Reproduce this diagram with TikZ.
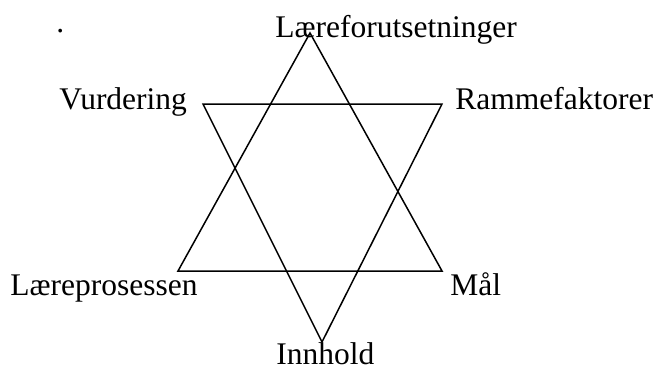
\documentclass[tikz,border=0pt]{standalone}
\usepackage{fontspec}
\setmainfont{Liberation Serif}
\usetikzlibrary{positioning}

\begin{document}
\begin{tikzpicture}[x=0.5pt, y=-0.5pt,
  lbl/.style={font=\fontsize{15.75}{18}\selectfont, inner sep=0pt, anchor=base west},
  edge/.style={line width=0.75pt, line join=miter}]
\useasboundingbox (0,0) rectangle (657,369);
% upward triangle
\coordinate (apex) at (310,33);
\coordinate (lowleft) at (178,271);
\coordinate (lowright) at (442,271);
% downward triangle
\coordinate (upleft) at (203,104);
\coordinate (upright) at (442,104);
\coordinate (bottom) at (322,342);
\draw[edge] (apex) -- (lowleft) -- (lowright) -- cycle;
\draw[edge] (upleft) -- (upright) -- (bottom) -- cycle;
% labels
\node[lbl] (dot) at (56,33) {.};
\node[lbl] (forut) at (275,38) {Læreforutsetninger};
\node[lbl] (vurd) at (59,110) {Vurdering};
\node[lbl] (ramme) at (455,110) {Rammefaktorer};
\node[lbl] (prosess) at (10,295) {Læreprosessen};
\node[lbl] (maal) at (450,295) {Mål};
\node[lbl] (innhold) at (276,364) {Innhold};
\end{tikzpicture}
\end{document}
